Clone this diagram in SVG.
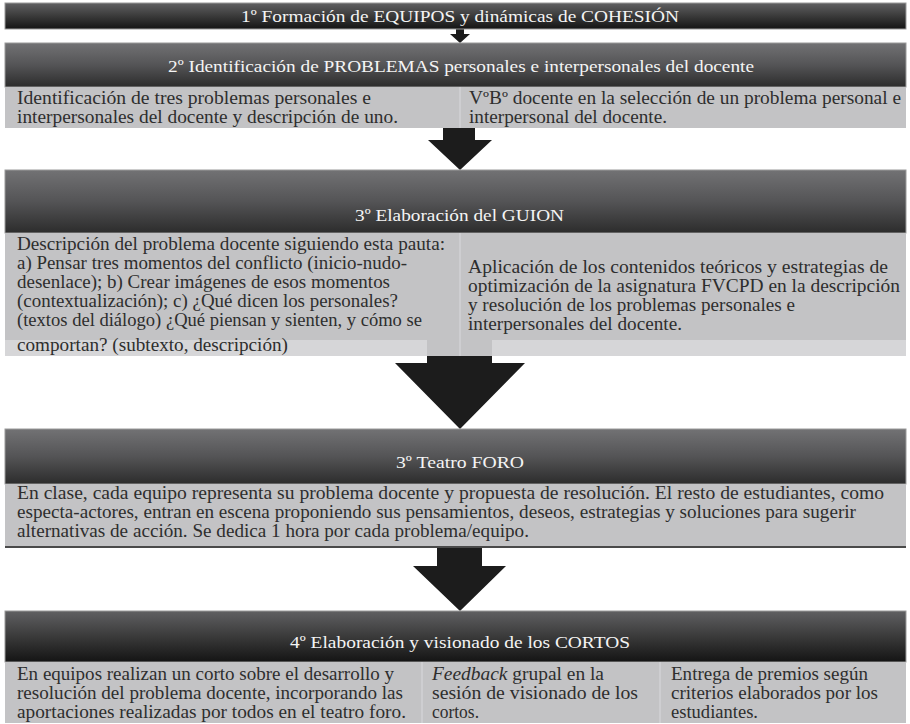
<svg xmlns="http://www.w3.org/2000/svg" width="910" height="724" viewBox="0 0 910 724">
<defs>
<linearGradient id="gHead" x1="0" y1="0" x2="0" y2="1">
<stop offset="0" stop-color="#727274"/>
<stop offset="0.5" stop-color="#545456"/>
<stop offset="1" stop-color="#2c2c2c"/>
</linearGradient>
<linearGradient id="gHead1" x1="0" y1="0" x2="0" y2="1">
<stop offset="0" stop-color="#606062"/>
<stop offset="0.5" stop-color="#3a3a3a"/>
<stop offset="1" stop-color="#141414"/>
</linearGradient>
</defs>
<style>
.head{stroke:#9a9a9a;stroke-width:1}
.cell{fill:#c3c3c5}
.light{fill:#d6d6d8}
.div{stroke:#d2d2d4;stroke-width:1.5}
.ht{font-size:17.5px;fill:#f4f4f4}
.bt{font-size:18px;fill:#2e2e2e}
.arrow{fill:#1c1c1c}
</style>
<rect width="910" height="724" fill="#ffffff"/>

<g id="connectors">
<polygon class="arrow" points="456,29 464,29 464,34 470,34 460,43 450,34 456,34"/>
<polygon class="arrow" points="443,128 475,128 475,140 492,140 460,170 428,140 443,140"/>
<polygon class="arrow" points="427,356 492,356 492,363 525,363 460,429 395,363 427,363"/>
<polygon class="arrow" points="437,548 482,548 482,566 506,566 460,611 413,566 437,566"/>
</g>

<g font-family="'Liberation Serif', 'DejaVu Serif', 'Times New Roman', serif">
<g id="step1">
<rect class="head" x="5" y="3" width="901" height="26" fill="url(#gHead1)"/>
<text class="ht" x="241" y="22" textLength="438" lengthAdjust="spacingAndGlyphs">1º Formación de EQUIPOS y dinámicas  de COHESIÓN</text>
</g>

<g id="step2">
<rect class="head" x="5" y="43" width="901" height="44" fill="url(#gHead)"/>
<text class="ht" x="168" y="72" textLength="586" lengthAdjust="spacingAndGlyphs">2º Identificación de PROBLEMAS personales e interpersonales del docente</text>
<rect class="cell" x="5" y="87" width="901" height="41"/>
<line class="div" x1="460" y1="87" x2="460" y2="128"/>
<text class="bt" x="17" y="104" textLength="354" lengthAdjust="spacingAndGlyphs">Identificación de tres problemas personales e</text>
<text class="bt" x="17" y="123" textLength="381" lengthAdjust="spacingAndGlyphs">interpersonales del docente y descripción de uno.</text>
<text class="bt" x="469" y="104" textLength="432" lengthAdjust="spacingAndGlyphs">VºBº docente en la selección de un problema personal e</text>
<text class="bt" x="469" y="123" textLength="198" lengthAdjust="spacingAndGlyphs">interpersonal del docente.</text>
</g>

<g id="step3">
<rect class="head" x="5" y="170" width="901" height="63" fill="url(#gHead)"/>
<text class="ht" x="355" y="221" textLength="209" lengthAdjust="spacingAndGlyphs">3º Elaboración del GUION</text>
<rect class="cell" x="5" y="233" width="901" height="107"/>
<rect class="light" x="5" y="340" width="422" height="16"/>
<rect class="cell" x="427" y="340" width="65" height="16"/>
<rect class="light" x="492" y="340" width="414" height="16"/>
<line class="div" x1="460" y1="233" x2="460" y2="356"/>
<text class="bt" x="17" y="250" textLength="428" lengthAdjust="spacingAndGlyphs">Descripción del problema docente siguiendo esta pauta:</text>
<text class="bt" x="17" y="269" textLength="390" lengthAdjust="spacingAndGlyphs">a) Pensar tres momentos del conflicto (inicio-nudo-</text>
<text class="bt" x="17" y="288" textLength="373" lengthAdjust="spacingAndGlyphs">desenlace); b) Crear imágenes de esos momentos</text>
<text class="bt" x="17" y="307" textLength="381" lengthAdjust="spacingAndGlyphs">(contextualización);  c) ¿Qué dicen los personales?</text>
<text class="bt" x="17" y="326" textLength="405" lengthAdjust="spacingAndGlyphs">(textos del diálogo) ¿Qué piensan y sienten, y cómo se</text>
<text class="bt" x="17" y="351" textLength="271" lengthAdjust="spacingAndGlyphs">comportan? (subtexto, descripción)</text>
<text class="bt" x="468" y="273" textLength="420" lengthAdjust="spacingAndGlyphs">Aplicación de los contenidos teóricos y estrategias de</text>
<text class="bt" x="468" y="292" textLength="432" lengthAdjust="spacingAndGlyphs">optimización de la asignatura FVCPD en la descripción</text>
<text class="bt" x="468" y="311" textLength="327" lengthAdjust="spacingAndGlyphs">y resolución de los problemas personales e</text>
<text class="bt" x="468" y="330" textLength="214" lengthAdjust="spacingAndGlyphs">interpersonales del docente.</text>
</g>

<g id="step4">
<rect class="head" x="5" y="429" width="901" height="55" fill="url(#gHead)"/>
<text class="ht" x="396" y="468" textLength="128" lengthAdjust="spacingAndGlyphs">3º Teatro FORO</text>
<rect class="cell" x="5" y="484" width="901" height="62"/>
<rect x="5" y="546" width="901" height="2" fill="#4a4a4a"/>
<text class="bt" x="17" y="499" textLength="867" lengthAdjust="spacingAndGlyphs">En clase, cada equipo representa su problema docente y propuesta de resolución. El resto de estudiantes,  como</text>
<text class="bt" x="17" y="518" textLength="839" lengthAdjust="spacingAndGlyphs">especta-actores, entran en escena proponiendo sus pensamientos, deseos, estrategias y soluciones para sugerir</text>
<text class="bt" x="17" y="537" textLength="512" lengthAdjust="spacingAndGlyphs">alternativas  de acción. Se dedica 1 hora por cada problema/equipo.</text>
</g>

<g id="step5">
<rect class="head" x="5" y="611" width="901" height="51" fill="url(#gHead1)"/>
<text class="ht" x="290" y="648" textLength="340" lengthAdjust="spacingAndGlyphs">4º Elaboración y visionado de los CORTOS</text>
<rect class="cell" x="5" y="662" width="901" height="61"/>
<line class="div" x1="422" y1="662" x2="422" y2="723"/>
<line class="div" x1="660" y1="662" x2="660" y2="723"/>
<text class="bt" x="17" y="680" textLength="377" lengthAdjust="spacingAndGlyphs">En equipos realizan  un corto sobre el  desarrollo y</text>
<text class="bt" x="17" y="699" textLength="386" lengthAdjust="spacingAndGlyphs">resolución del problema docente, incorporando las</text>
<text class="bt" x="17" y="718" textLength="389" lengthAdjust="spacingAndGlyphs">aportaciones realizadas  por todos en el teatro foro.</text>
<text class="bt" x="432" y="680" textLength="172" lengthAdjust="spacingAndGlyphs"><tspan font-style="italic">Feedback</tspan> grupal en la</text>
<text class="bt" x="432" y="699" textLength="206" lengthAdjust="spacingAndGlyphs">sesión de visionado de los</text>
<text class="bt" x="432" y="718" textLength="47" lengthAdjust="spacingAndGlyphs">cortos.</text>
<text class="bt" x="671" y="680" textLength="197" lengthAdjust="spacingAndGlyphs">Entrega de premios según</text>
<text class="bt" x="671" y="699" textLength="207" lengthAdjust="spacingAndGlyphs">criterios elaborados por los</text>
<text class="bt" x="671" y="718" textLength="87" lengthAdjust="spacingAndGlyphs">estudiantes.</text>
</g>
</g>
</svg>
